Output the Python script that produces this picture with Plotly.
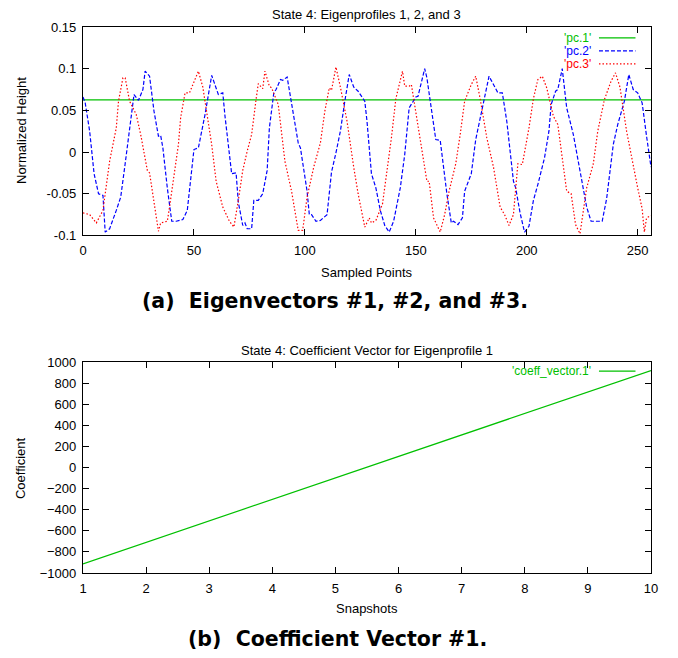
import plotly.graph_objects as go

# ---------------- data ----------------
pc1_x = [0, 64, 128, 192, 256]
pc1_y = [0.0626, 0.0625, 0.0627, 0.0626, 0.0625]

pc2_x = [0, 1, 3, 5, 7, 9, 10, 12, 15, 17, 19, 21, 23, 25, 27, 28, 30, 32, 34, 35, 36, 38, 40, 42, 45, 47,
         50, 52, 55, 58, 59, 61, 63, 64, 67, 69, 70, 72, 73, 74, 76, 77, 79, 81, 83, 84, 86, 87, 89, 90, 92,
         94, 97, 98, 101, 102, 103, 105, 107, 110, 112, 114, 116, 118, 120, 122, 124, 127, 128, 130, 132,
         134, 136, 138, 140, 143, 145, 147, 150, 151, 154, 155, 157, 159, 161, 164, 166, 167, 169, 171, 172,
         175, 177, 180, 183, 184, 187, 189, 191, 194, 195, 197, 199, 201, 203, 205, 208, 210, 211, 213, 214,
         216, 218, 221, 224, 227, 229, 231, 234, 236, 239, 241, 244, 246, 248, 250, 252, 254, 256]
pc2_y = [0.066, 0.059, 0.025, -0.026, -0.050, -0.052, -0.096, -0.092, -0.070, -0.054, -0.014, 0.029, 0.069,
         0.062, 0.075, 0.097, 0.091, 0.049, 0.019, 0.020, 0.005, -0.043, -0.083, -0.083, -0.081, -0.070,
         0.003, 0.005, 0.045, 0.092, 0.085, 0.069, 0.071, 0.043, -0.026, -0.025, -0.060, -0.088, -0.085,
         -0.092, -0.092, -0.058, -0.058, -0.050, -0.022, 0.029, 0.071, 0.075, 0.087, 0.086, 0.090,
         0.057, 0.011, 0.005, -0.047, -0.075, -0.075, -0.083, -0.082, -0.075, -0.024, -0.001, 0.025, 0.061,
         0.093, 0.078, 0.073, 0.061, 0.037, -0.026, -0.043,
         -0.070, -0.088, -0.096, -0.083, -0.043, -0.003, 0.053, 0.066, 0.067, 0.100, 0.089, 0.049, 0.015,
         0.014, -0.050, -0.085, -0.083, -0.087, -0.079, -0.047,
         -0.026, 0.015, 0.055, 0.091, 0.086, 0.071, 0.071, 0.037, -0.035, -0.043, -0.073, -0.096, -0.089,
         -0.058, -0.039, -0.007, 0.025, 0.057, 0.073, 0.075,
         0.100, 0.053, 0.021, -0.022, -0.066, -0.083, -0.083, -0.083, -0.056, 0.009, 0.033, 0.061, 0.093,
         0.075, 0.071, 0.059, 0.019, -0.018]

pc3_x = [0, 3, 6, 9, 10, 12, 15, 16, 18, 19, 21, 24, 26, 29, 30, 32, 34, 35, 38, 39, 41, 43, 44, 46, 48, 50,
         52, 54, 56, 58, 60, 63, 66, 68, 70, 72, 74, 76, 78, 79, 81, 82, 84, 85, 88, 91, 94, 97, 99, 101, 104,
         107, 109, 111, 112, 114, 116, 119, 122, 124, 127, 129, 130, 132, 135, 137, 139, 141, 144, 145, 147,
         148, 150, 153, 155, 156, 158, 161, 163, 165, 168, 170, 172, 175, 177, 179, 182, 185, 188, 190, 192,
         194, 196, 198, 201, 203, 205, 207, 209, 212, 214, 216, 218, 220, 222, 224, 225, 227, 230, 232, 235,
         238, 240, 242, 245, 248, 250, 252, 253, 254, 256]
pc3_y = [-0.073, -0.075, -0.085, -0.070, -0.050, -0.011, 0.029, 0.061, 0.089, 0.089, 0.061, 0.045, 0.021,
         -0.022, -0.025, -0.058, -0.095, -0.085, -0.083, -0.066, -0.030, 0.009, 0.041, 0.071, 0.071, 0.085,
         0.097, 0.078, 0.041, 0.009, -0.035, -0.066, -0.083, -0.090, -0.058, -0.022, 0.001, 0.021, 0.063,
         0.082, 0.076, 0.097, 0.079, 0.077, 0.057, -0.011, -0.047, -0.094, -0.094, -0.054, -0.018,
         0.011, 0.049, 0.077, 0.074, 0.102, 0.078, 0.037, -0.018, -0.050, -0.090, -0.079, -0.085, -0.082,
         -0.062, -0.022, 0.017, 0.064, 0.097, 0.079, 0.079,
         0.081, 0.049, -0.003, -0.035, -0.035, -0.079, -0.096, -0.075, -0.047, -0.014, 0.021, 0.061, 0.081,
         0.091, 0.064, 0.017, -0.018, -0.066, -0.075, -0.088,
         -0.075, -0.014, -0.015, 0.029, 0.064, 0.087, 0.091, 0.077, 0.043, 0.033, -0.007, -0.047, -0.050,
         -0.087, -0.098, -0.079, -0.043, -0.014, 0.025, 0.063,
         0.085, 0.095, 0.078, 0.025, -0.018, -0.043, -0.068, -0.096, -0.079, -0.076]

snapshots = [1, 2, 3, 4, 5, 6, 7, 8, 9, 10]
coeff_vector_1 = [-913, -709, -506, -302, -99, 105, 309, 512, 716, 920]

top_title = "State 4: Eigenprofiles 1, 2, and 3"
bottom_title = "State 4: Coefficient Vector for Eigenprofile 1"
caption_a = "(a)  Eigenvectors #1, #2, and #3."
caption_b = "(b)  Coefficient Vector #1."

# ---------------- styling ----------------
GREEN = "#00c000"
BLUE = "#0000ff"
RED = "#ff0000"
FONT = "Liberation Sans, Arial, sans-serif"
CAPFONT = "DejaVu Sans, sans-serif"
FS = 13

# page has an 8px body margin; figure is sized so page fits exactly
OFF = 8
W, H = 678 - 2 * OFF, 658 - 2 * OFF
PL, PR, PT, PB = 82.5, 657.7, 26.0, 573.5          # plot area in page pixels
L, T = PL - OFF, PT - OFF
R, B = W - (PR - OFF), H - (PB - OFF)
PW, PH = PR - PL, PB - PT


def px(xp):
    return (xp - PL) / PW


def py(yp):
    return (PB - yp) / PH


DASH2 = "4px,2px"
DOT3 = "1.5px,2px"

fig = go.Figure()
fig.add_trace(go.Scatter(x=pc1_x, y=pc1_y, mode="lines", line=dict(color=GREEN, width=1.2),
                         xaxis="x", yaxis="y", showlegend=False))
fig.add_trace(go.Scatter(x=pc2_x, y=pc2_y, mode="lines", line=dict(color=BLUE, width=1.2, dash=DASH2),
                         xaxis="x", yaxis="y", showlegend=False))
fig.add_trace(go.Scatter(x=pc3_x, y=pc3_y, mode="lines", line=dict(color=RED, width=1.2, dash=DOT3),
                         xaxis="x", yaxis="y", showlegend=False))
fig.add_trace(go.Scatter(x=snapshots, y=coeff_vector_1, mode="lines", line=dict(color=GREEN, width=1.2),
                         xaxis="x2", yaxis="y2", showlegend=False))

axis_common = dict(showline=True, linecolor="black", linewidth=1.3, mirror="ticks", ticks="inside",
                   ticklen=6, tickcolor="black", showgrid=False, zeroline=False,
                   tickfont=dict(family=FONT, size=FS, color="black"))

top_dom = [py(235), 1.0]
bot_dom = [0.0, py(362)]

fig.update_layout(
    width=W, height=H,
    margin=dict(l=L, r=R, t=T, b=B, pad=0),
    paper_bgcolor="white", plot_bgcolor="white",
    xaxis=dict(domain=[0, 1], range=[0, 256], tickvals=[0, 50, 100, 150, 200, 250], anchor="y",
               ticklabelstandoff=3, **axis_common),
    yaxis=dict(domain=top_dom, range=[-0.1, 0.15], tickvals=[-0.1, -0.05, 0, 0.05, 0.1, 0.15],
               ticktext=["-0.1", "-0.05", "0", "0.05", "0.1", "0.15"], anchor="x",
               ticklabelstandoff=3, **axis_common),
    xaxis2=dict(domain=[0, 1], range=[1, 10], tickvals=snapshots, anchor="y2",
                ticklabelstandoff=3, **axis_common),
    yaxis2=dict(domain=bot_dom, range=[-1000, 1000], tickvals=list(range(-1000, 1001, 200)), anchor="x2",
                ticklabelstandoff=3, **axis_common),
    showlegend=False,
)

ann = []


def text(x, y, s, size=FS, color="black", family=FONT, xanchor="center", angle=0):
    ann.append(dict(x=x, y=y, xref="paper", yref="paper", text=s, showarrow=False, xanchor=xanchor,
                    yanchor="middle", textangle=angle, borderpad=0,
                    font=dict(family=family, size=size, color=color)))


text(px(370), py(13), top_title)
text(px(370), py(272), "Sampled Points")
text(px(20), py(130), "Normalized Height", angle=-90)
text(px(338), py(301), "<b>" + caption_a + "</b>", size=20.5, family=CAPFONT)
text(px(370), py(350), bottom_title)
text(px(370), py(609), "Snapshots")
text(px(20), py(468), "Coefficient", angle=-90)
text(px(340), py(640), "<b>" + caption_b + "</b>", size=20.5, family=CAPFONT)

# legends (gnuplot style: text, then line sample)
legend_items = [("'pc.1'", GREEN, "solid", 37), ("'pc.2'", BLUE, DASH2, 50), ("'pc.3'", RED, DOT3, 63),
                ("'coeff_vector.1'", GREEN, "solid", 371)]
shapes = []
for label, col, dash, yp in legend_items:
    text(px(598), py(yp), label, size=12, color=col, xanchor="right")
    shapes.append(dict(type="line", xref="paper", yref="paper", x0=px(605), x1=px(642), y0=py(yp), y1=py(yp),
                       line=dict(color=col, width=1.2, dash=dash)))

fig.update_layout(annotations=ann, shapes=shapes)
fig.write_html("out.html")
